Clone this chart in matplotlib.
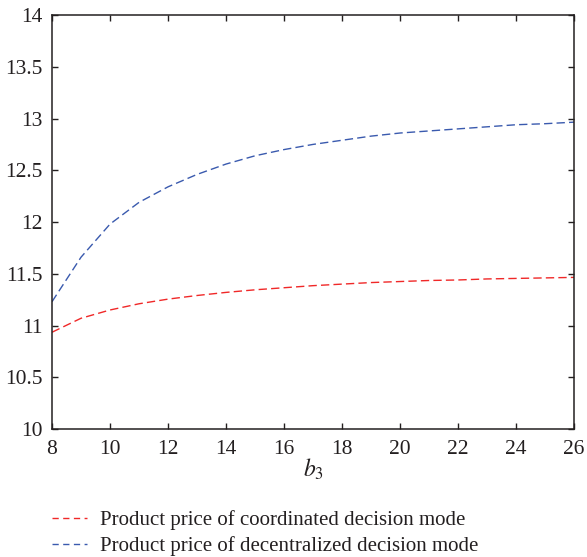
import numpy as np
from matplotlib import pyplot as plt
from matplotlib.lines import Line2D

plt.rcParams["font.family"] = ["Liberation Serif", "DejaVu Serif"]
plt.rcParams["mathtext.fontset"] = "stix"

# values at integer b3
b3 = [8, 9, 10, 11, 12, 13, 14, 15, 16, 17, 18, 19, 20, 21, 22, 23, 24, 25, 26]
price_coordinated = [10.935, 11.07, 11.15, 11.21, 11.255, 11.29, 11.32, 11.345, 11.365,
                     11.385, 11.40, 11.415, 11.425, 11.435, 11.44, 11.45, 11.455, 11.46, 11.465]
price_decentralized = [11.23, 11.66, 11.98, 12.19, 12.34, 12.46, 12.56, 12.64, 12.70,
                       12.75, 12.79, 12.83, 12.86, 12.88, 12.90, 12.92, 12.94, 12.95, 12.965]
labels = ["Product price of coordinated decision mode",
          "Product price of decentralized decision mode"]
colors = ["#f02828", "#3a5aae"]

text_color = "#231f20"

fig = plt.figure(figsize=(5.87, 5.57), dpi=100)
ax = fig.add_axes([0.0886, 0.2298, 0.8894, 0.7432])

ax.plot(b3, price_coordinated, color=colors[0], linewidth=1.0,
        linestyle=(0, (6, 3)))
ax.plot(b3, price_decentralized, color=colors[1], linewidth=1.0,
        linestyle=(0, (6, 3)))

ax.set_xlim(8, 26)
ax.set_ylim(10, 14)
ax.set_xticks(np.arange(8, 27, 2))
ax.set_yticks(np.arange(10, 14.01, 0.5))
ax.set_yticklabels(["10", "10.5", "11", "11.5", "12", "12.5", "13", "13.5", "14"])
ax.tick_params(direction="in", length=4, width=1, top=True, right=True,
               labelsize=15.5, colors=text_color)
ax.tick_params(axis="y", pad=7)
ax.tick_params(axis="x", pad=8)
for sp in ax.spines.values():
    sp.set_linewidth(1.1)
    sp.set_color(text_color)

ax.set_xlabel(r"$b_3$", fontsize=17, color=text_color, labelpad=-1.5)

# legend key: three short dashes as in the reference
handles = [Line2D([], [], color=c, linewidth=1.0, linestyle=(0, (4.5, 3.2)))
           for c in colors]
fig.legend(handles, labels, loc="upper left", bbox_to_anchor=(0.0886, 0.084),
           frameon=False, fontsize=15, handlelength=1.7, handletextpad=0.62,
           labelspacing=0.3, labelcolor=text_color, borderaxespad=0, borderpad=0)

fig.savefig("out.png", dpi=100)
